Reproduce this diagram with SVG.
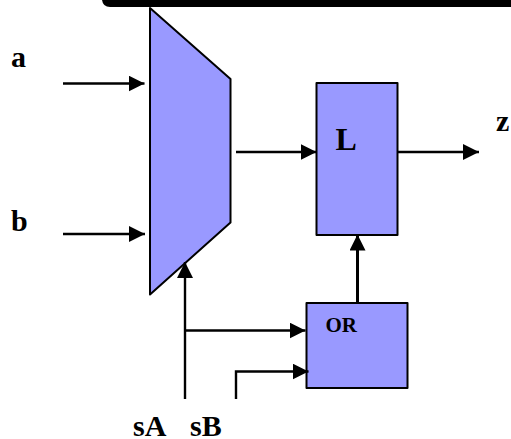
<svg xmlns="http://www.w3.org/2000/svg" width="511" height="439" viewBox="0 0 511 439">
<style>
.b{fill:#9999ff;stroke:#000;stroke-width:2;stroke-linejoin:round}
.c{fill:none;stroke:#000;stroke-width:2.400}
.t{font-family:"Liberation Serif",serif;font-weight:bold;fill:#000}
</style>
<defs><marker id="a" markerUnits="userSpaceOnUse" markerWidth="16" markerHeight="16" refX="16" refY="8" orient="auto"><path d="M0 0L16 8L0 16Z"/></marker></defs>
<rect width="511" height="439" fill="#fff"/>
<path id="bar" d="M102 0Q103 7 110 7H511V0Z" fill="#000"/>
<g id="mux"><path class="b" d="M150 8L230.500 79V222.500L150 294.500Z"/></g>
<g id="L"><rect class="b" x="316.500" y="83" width="81" height="152"/><text class="t" x="335.500" y="149.500" font-size="32">L</text></g>
<g id="OR"><rect class="b" x="306.500" y="303" width="101" height="85"/><text class="t" x="325.500" y="331.500" font-size="21">OR</text></g>
<g id="connectors">
<path class="c" marker-end="url(#a)" d="M63 83.500H144.500"/>
<path class="c" marker-end="url(#a)" d="M63 234H145"/>
<path class="c" marker-end="url(#a)" d="M236 152H316.500"/>
<path class="c" marker-end="url(#a)" d="M398 152H479"/>
<path class="c" marker-end="url(#a)" d="M185 399V262"/>
<path class="c" marker-end="url(#a)" d="M185 330.500H305.500"/>
<path class="c" marker-end="url(#a)" d="M236 399V371.500H308.500"/>
<path class="c" style="stroke-width:3" marker-end="url(#a)" d="M357.500 303V234.500"/>
</g>
<text class="t" x="11" y="67" font-size="30">a</text>
<text class="t" x="11" y="231" font-size="30">b</text>
<text class="t" x="496" y="131" font-size="30">z</text>
<text class="t" x="133" y="436" font-size="30">sA</text>
<text class="t" x="190" y="436" font-size="30">sB</text>
</svg>
